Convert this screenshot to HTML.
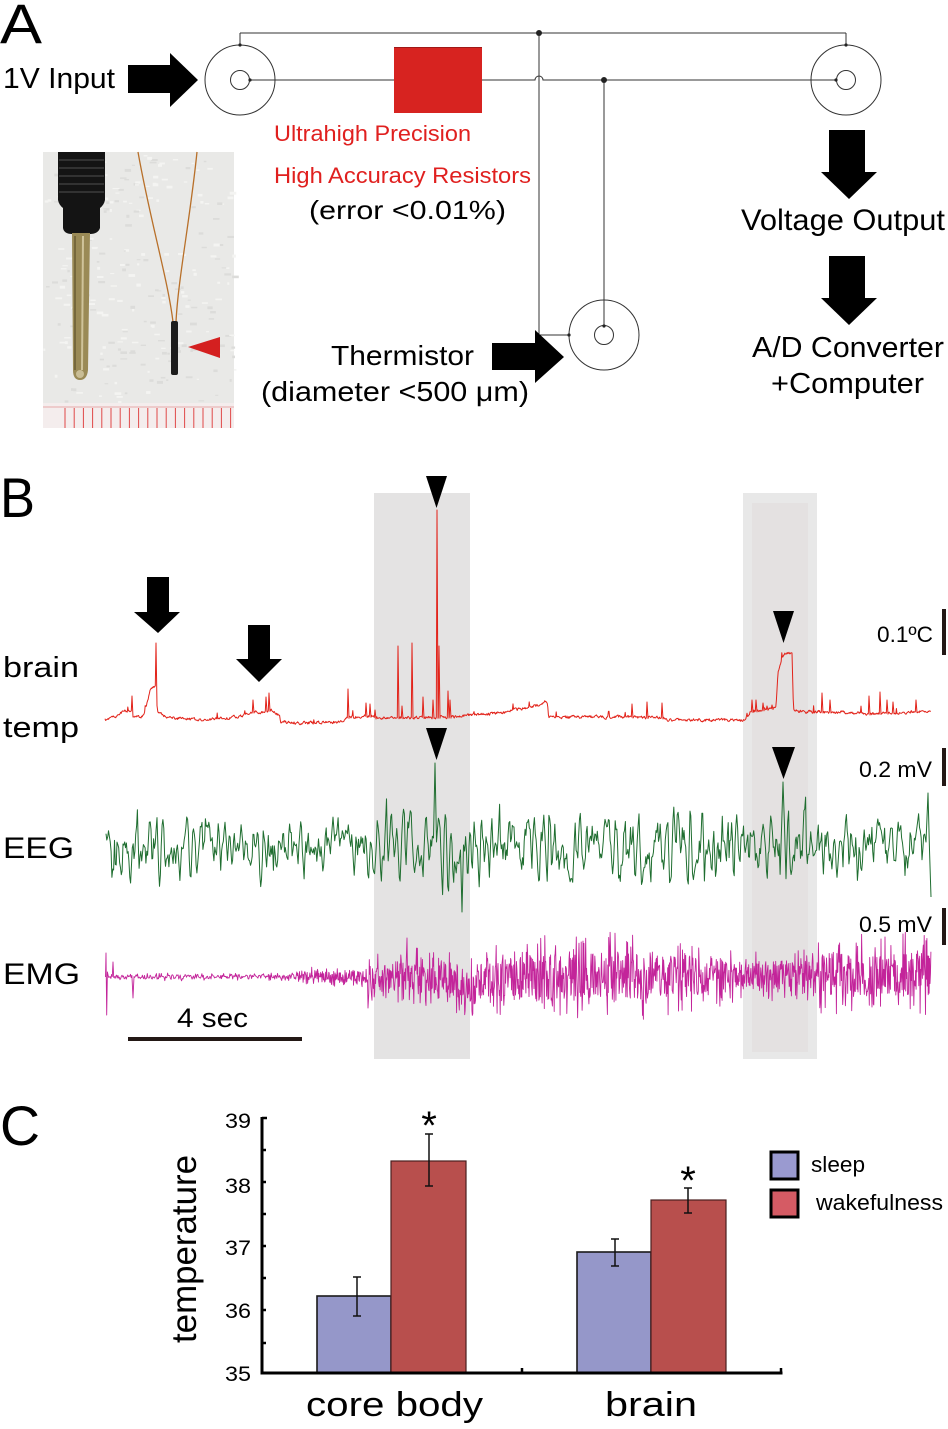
<!DOCTYPE html>
<html>
<head>
<meta charset="utf-8">
<style>
html,body{margin:0;padding:0;background:#fff;}
body{width:948px;height:1429px;overflow:hidden;}
svg{display:block;}
text{font-family:"Liberation Sans",Arial,sans-serif;}
</style>
</head>
<body>
<svg id="fig" width="948" height="1429" viewBox="0 0 948 1429" xmlns="http://www.w3.org/2000/svg">
<rect x="0" y="0" width="948" height="1429" fill="#fff"/>

<!-- ============ PANEL A ============ -->
<text x="0" y="43" font-size="56" textLength="42" lengthAdjust="spacingAndGlyphs">A</text>

<g stroke="#333" stroke-width="1" fill="none">
  <line x1="240" y1="33" x2="846" y2="33"/>
  <line x1="240" y1="33" x2="240" y2="45"/>
  <line x1="846" y1="33" x2="846" y2="45"/>
  <path d="M250,80 H535 A4,4 0 0 1 543,80 H836"/>
  <line x1="539" y1="33" x2="539" y2="335"/>
  <line x1="539" y1="335" x2="569" y2="335"/>
  <line x1="604" y1="80" x2="604" y2="325"/>
  <circle cx="240" cy="80" r="35"/>
  <circle cx="240" cy="80" r="9.5"/>
  <circle cx="846" cy="80" r="35"/>
  <circle cx="846" cy="80" r="9.5"/>
  <circle cx="604" cy="335" r="35"/>
  <circle cx="604" cy="335" r="9.5"/>
</g>
<g fill="#222">
  <circle cx="539" cy="33" r="3"/>
  <circle cx="604" cy="80" r="3"/>
  <circle cx="240" cy="45" r="1.6"/>
  <circle cx="846" cy="45" r="1.6"/>
  <circle cx="250" cy="80" r="1.6"/>
  <circle cx="836" cy="80" r="1.6"/>
  <circle cx="604" cy="326" r="1.6"/>
  <circle cx="569" cy="335" r="1.6"/>
</g>
<rect x="394" y="47" width="88" height="66" fill="#d72320"/>
<line x1="394" y1="47.5" x2="482" y2="47.5" stroke="#a01818" stroke-width="1"/>

<g fill="#000">
  <polygon points="128,65 170,65 170,53 198,80 170,107 170,93 128,93"/>
  <polygon points="492,343 535,343 535,330 564,357 535,383 535,370 492,370"/>
  <polygon points="829,130 865,130 865,172 877,172 849,199 821,172 829,172"/>
  <polygon points="829,256 865,256 865,298 877,298 849,325 821,298 829,298"/>
</g>

<text x="3" y="88" font-size="29" textLength="112" lengthAdjust="spacingAndGlyphs">1V Input</text>
<text x="274" y="141" font-size="22" fill="#e0201f" textLength="197" lengthAdjust="spacingAndGlyphs">Ultrahigh Precision</text>
<text x="274" y="183" font-size="22" fill="#e0201f" textLength="257" lengthAdjust="spacingAndGlyphs">High Accuracy Resistors</text>
<text x="309" y="219" font-size="26" textLength="197" lengthAdjust="spacingAndGlyphs">(error &lt;0.01%)</text>
<text x="331" y="365" font-size="28" textLength="143" lengthAdjust="spacingAndGlyphs">Thermistor</text>
<text x="261" y="401" font-size="28" textLength="268" lengthAdjust="spacingAndGlyphs">(diameter &lt;500 μm)</text>
<text x="741" y="230" font-size="30" textLength="204" lengthAdjust="spacingAndGlyphs">Voltage Output</text>
<text x="752" y="357" font-size="29" textLength="192" lengthAdjust="spacingAndGlyphs">A/D Converter</text>
<text x="771" y="393" font-size="29" textLength="153" lengthAdjust="spacingAndGlyphs">+Computer</text>

<!-- photo -->
<g>
  <rect x="43" y="152" width="191" height="276" fill="#e9e9e7"/>
  <g id="tex"></g>
  <rect x="43" y="403" width="191" height="25" fill="#f4eded"/>
  <line x1="43" y1="407" x2="234" y2="407" stroke="#e6a9a9" stroke-width="1"/>
  <g stroke="#e04848" stroke-width="1">
    <line x1="65" y1="408" x2="65" y2="428"/><line x1="74.2" y1="408" x2="74.2" y2="428"/>
    <line x1="83.4" y1="408" x2="83.4" y2="428"/><line x1="92.6" y1="408" x2="92.6" y2="428"/>
    <line x1="101.8" y1="408" x2="101.8" y2="428"/><line x1="111" y1="408" x2="111" y2="428"/>
    <line x1="120.2" y1="408" x2="120.2" y2="428"/><line x1="129.4" y1="408" x2="129.4" y2="428"/>
    <line x1="138.6" y1="408" x2="138.6" y2="428"/><line x1="147.8" y1="408" x2="147.8" y2="428"/>
    <line x1="157" y1="408" x2="157" y2="428"/><line x1="166.2" y1="408" x2="166.2" y2="428"/>
    <line x1="175.4" y1="408" x2="175.4" y2="428"/><line x1="184.6" y1="408" x2="184.6" y2="428"/>
    <line x1="193.8" y1="408" x2="193.8" y2="428"/><line x1="203" y1="408" x2="203" y2="428"/>
    <line x1="212.2" y1="408" x2="212.2" y2="428"/><line x1="221.4" y1="408" x2="221.4" y2="428"/>
    <line x1="230.6" y1="408" x2="230.6" y2="428"/>
  </g>
  <path d="M58,152 H105 V200 Q104,205 100,208 V228 Q98,234 90,234 H72 Q64,234 63,228 V208 Q59,205 58,200 Z" fill="#141414"/>
  <g stroke="#3c3c3c" stroke-width="1.5">
    <line x1="59" y1="160" x2="104" y2="160"/><line x1="59" y1="168" x2="104" y2="168"/>
    <line x1="59" y1="176" x2="104" y2="176"/><line x1="59" y1="184" x2="104" y2="184"/>
    <line x1="59" y1="192" x2="104" y2="192"/>
  </g>
  <path d="M72,233 H90 L88,370 Q87,380 80,380 Q73,380 73,370 Z" fill="#9a8a56"/>
  <line x1="75" y1="236" x2="75" y2="370" stroke="#6a5d34" stroke-width="1.5"/>
  <line x1="83" y1="236" x2="82" y2="370" stroke="#cfc39a" stroke-width="2"/>
  <circle cx="80" cy="374" r="4" fill="#c9bd95"/>
  <path d="M138,152 C150,220 168,280 173,322" stroke="#b8702a" stroke-width="1.3" fill="none"/>
  <path d="M197,152 C190,220 178,280 176,322" stroke="#b8702a" stroke-width="1.3" fill="none"/>
  <rect x="171" y="321" width="7" height="54" rx="2" fill="#1c1c1c"/>
  <polygon points="188,347 220,337 220,358" fill="#d42020"/>
</g>

<!-- ============ PANEL B ============ -->
<text x="0" y="517" font-size="56" textLength="35" lengthAdjust="spacingAndGlyphs">B</text>

<rect x="374" y="493" width="96" height="566" fill="#e4e3e3"/>
<rect x="743" y="493" width="74" height="566" fill="#e8e8e8"/>
<rect x="752" y="503" width="56" height="549" fill="#e4e1e1"/>

<path id="red" d="" fill="none" stroke="#e2231a" stroke-width="1" stroke-linejoin="round"/>
<path id="eeg" d="" fill="none" stroke="#1f6e30" stroke-width="1" stroke-linejoin="round"/>
<path id="emg" d="" fill="none" stroke="#c3249a" stroke-width="0.9" stroke-linejoin="round"/>

<g fill="#000">
  <polygon points="147,577 169,577 169,612 180,612 158,633 134,612 147,612"/>
  <polygon points="248,625 270,625 270,659 282,659 259,682 236,659 248,659"/>
  <polygon points="426,476 447,476 436.5,508"/>
  <polygon points="773,611 794,611 783.5,643"/>
  <polygon points="426,728 447,728 436.5,760"/>
  <polygon points="772,747 795,747 783.5,779"/>
</g>

<g fill="#231815">
  <rect x="942" y="609" width="4" height="46"/>
  <rect x="942" y="748" width="4" height="38"/>
  <rect x="942" y="908" width="4" height="37"/>
  <rect x="128" y="1037" width="174" height="4"/>
</g>
<text x="877" y="642" font-size="22" textLength="56" lengthAdjust="spacingAndGlyphs">0.1ºC</text>
<text x="859" y="777" font-size="22" textLength="73" lengthAdjust="spacingAndGlyphs">0.2 mV</text>
<text x="859" y="932" font-size="22" textLength="73" lengthAdjust="spacingAndGlyphs">0.5 mV</text>
<text x="177" y="1027" font-size="27" textLength="71" lengthAdjust="spacingAndGlyphs">4 sec</text>

<text x="3" y="677" font-size="29" textLength="76" lengthAdjust="spacingAndGlyphs">brain</text>
<text x="3" y="737" font-size="29" textLength="76" lengthAdjust="spacingAndGlyphs">temp</text>
<text x="3" y="858" font-size="30" textLength="71" lengthAdjust="spacingAndGlyphs">EEG</text>
<text x="3" y="984" font-size="30" textLength="77" lengthAdjust="spacingAndGlyphs">EMG</text>

<!-- ============ PANEL C ============ -->
<text x="0" y="1145" font-size="56" textLength="40" lengthAdjust="spacingAndGlyphs">C</text>

<rect x="317" y="1296" width="74" height="77" fill="#9597c9" stroke="#1a1a1a" stroke-width="1.6"/>
<rect x="391" y="1161" width="75" height="212" fill="#b84f4d" stroke="#4a1f1f" stroke-width="1.2"/>
<rect x="577" y="1252" width="74" height="121" fill="#9597c9" stroke="#1a1a1a" stroke-width="1.6"/>
<rect x="651" y="1200" width="75" height="173" fill="#b84f4d" stroke="#4a1f1f" stroke-width="1.2"/>

<g stroke="#111" stroke-width="1.5" fill="none">
  <path d="M357,1277 V1316 M353,1277 H361 M353,1316 H361"/>
  <path d="M429,1134 V1186 M425,1134 H433 M425,1186 H433"/>
  <path d="M615,1239 V1266 M611,1239 H619 M611,1266 H619"/>
  <path d="M688,1188 V1213 M684,1188 H692 M684,1213 H692"/>
</g>
<text x="429" y="1139" font-size="40" text-anchor="middle">*</text>
<text x="688" y="1194" font-size="40" text-anchor="middle">*</text>

<g stroke="#000" fill="none">
  <line x1="262" y1="1117" x2="262" y2="1374.5" stroke-width="3"/>
  <line x1="261" y1="1373" x2="782.5" y2="1373" stroke-width="3"/>
  <g stroke-width="2.5">
    <line x1="262" y1="1118" x2="267" y2="1118"/>
    <line x1="262" y1="1150" x2="266" y2="1150"/>
    <line x1="262" y1="1182" x2="266" y2="1182"/>
    <line x1="262" y1="1214" x2="266" y2="1214"/>
    <line x1="262" y1="1246" x2="266" y2="1246"/>
    <line x1="262" y1="1278" x2="266" y2="1278"/>
    <line x1="262" y1="1310" x2="266" y2="1310"/>
    <line x1="262" y1="1343" x2="266" y2="1343"/>
    <line x1="522" y1="1368" x2="522" y2="1373"/>
    <line x1="781" y1="1368" x2="781" y2="1373"/>
  </g>
</g>
<g font-size="21" text-anchor="end">
  <text x="251" y="1128" textLength="26" lengthAdjust="spacingAndGlyphs">39</text>
  <text x="251" y="1193" textLength="26" lengthAdjust="spacingAndGlyphs">38</text>
  <text x="251" y="1255" textLength="26" lengthAdjust="spacingAndGlyphs">37</text>
  <text x="251" y="1318" textLength="26" lengthAdjust="spacingAndGlyphs">36</text>
  <text x="251" y="1381" textLength="26" lengthAdjust="spacingAndGlyphs">35</text>
</g>
<g transform="translate(196,1249) rotate(-90)">
  <text x="0" y="0" font-size="35" text-anchor="middle" textLength="188" lengthAdjust="spacingAndGlyphs">temperature</text>
</g>
<text x="306" y="1416" font-size="34" textLength="177" lengthAdjust="spacingAndGlyphs">core body</text>
<text x="605" y="1416" font-size="34" textLength="92" lengthAdjust="spacingAndGlyphs">brain</text>

<rect x="771" y="1152" width="27" height="27" fill="#9a9ad0" stroke="#000" stroke-width="3"/>
<rect x="771" y="1190" width="27" height="27" fill="#d55b64" stroke="#000" stroke-width="3"/>
<text x="811" y="1172" font-size="22" textLength="54" lengthAdjust="spacingAndGlyphs">sleep</text>
<text x="816" y="1210" font-size="22" textLength="127" lengthAdjust="spacingAndGlyphs">wakefulness</text>
</svg>

<script>
(function(){
function rng(a){return function(){a|=0;a=a+0x6D2B79F5|0;var t=Math.imul(a^a>>>15,1|a);t=t+Math.imul(t^t>>>7,61|t)^t;return((t^t>>>14)>>>0)/4294967296;};}
function ip(kp,x){if(x<=kp[0][0])return kp[0][1];for(var i=0;i<kp.length-1;i++){if(x<=kp[i+1][0]){var t=(x-kp[i][0])/(kp[i+1][0]-kp[i][0]);return kp[i][1]+t*(kp[i+1][1]-kp[i][1]);}}return kp[kp.length-1][1];}
function toD(p){p.sort(function(a,b){return a[0]-b[0];});var s='M'+p[0][0].toFixed(1)+','+p[0][1].toFixed(1);for(var i=1;i<p.length;i++)s+='L'+p[i][0].toFixed(1)+','+p[i][1].toFixed(1);return s;}
function inRanges(x,r){for(var i=0;i<r.length;i++){if(x>r[i][0]&&x<r[i][1])return true;}return false;}

/* photo texture */
var T=rng(21),tex='';
for(var i=0;i<260;i++){
  var tx=43+T()*191, ty=152+T()*250, c=T()<0.5?'#dcdcda':'#f4f4f2';
  tex+='<rect x="'+tx.toFixed(1)+'" y="'+ty.toFixed(1)+'" width="'+(2+T()*5).toFixed(1)+'" height="'+(1+T()*2).toFixed(1)+'" fill="'+c+'"/>';
}
document.getElementById('tex').innerHTML=tex;

/* brain temp */
var R=rng(7);
var base=[[105,720],[118,716],[123,711],[131,710],[133,716],[140,717],[144,715],[148,700],[150,690],[154,686],[155.6,686],[157.4,710],[163,715],[175,718],[200,720],[240,717],[250,712],[260,712],[272,710],[277,714],[279.5,716],[280.5,722],[300,723],[344,722],[346,718],[350,717],[370,716],[376,718],[460,717],[467,715],[500,713],[540,705],[546,701],[547.5,702],[548.5,717],[632,717],[663,718],[664.5,720],[700,720],[744,720],[750,712],[776,708],[778,672],[783,657],[786,653],[792,653],[793.5,710],[800,712],[830,712],[870,714],[931,711]];
var spikes=[[132,696],[156,643],[253,700],[266,697],[269,693],[348,689],[366,703],[370,704],[375,710],[398,646],[402,706],[412,643],[423,697],[433,700],[437,510],[439,646],[448,691],[450,700],[632,704],[647,702],[662,703],[752,700],[756,700],[763,703],[767,706],[772,705],[822,693],[830,700],[869,696],[880,692],[887,700],[893,702],[916,700]];
var sr=spikes.map(function(s){return [s[0]-0.9,s[0]+1.2];});
var pts=[],w=0;
for(var x=105;x<=931;x+=0.6){
  w=0.5*w+(R()-0.5)*2.6;
  var y=ip(base,x)+w;
  if(R()<0.012) y-=3+R()*4;
  if(!inRanges(x,sr)) pts.push([x,y]);
}
spikes.forEach(function(s){
  pts.push([s[0]-0.7,ip(base,s[0]-0.7)]);
  pts.push([s[0],s[1]]);
  pts.push([s[0]+1.0,ip(base,s[0]+1.0)+1]);
});
document.getElementById('red').setAttribute('d',toD(pts));

/* EEG */
var G=rng(3);
var ep=[],a=0,b=0,s=0;
var er=[[432.5,437.5],[459.5,464.5],[780.5,785.5],[925,932]];
for(var x2=106;x2<=931;x2+=0.85){
  s=0.9*s+(G()-0.5)*6;
  var e=(G()-0.5)*2;
  var n=0.95*a-0.5*b+e*16;b=a;a=n;
  if(G()<0.03) n+= (G()-0.5)*50;
  var amp=x2<370?1.05:1.3;
  var yy=847+amp*(n*0.95+s);
  if(yy<797)yy=797+(G()*5);if(yy>902)yy=902-(G()*5);
  if(!inRanges(x2,er)) ep.push([x2,yy]);
}
ep.push([433.5,838],[435,763],[436.5,842]);
ep.push([460.5,850],[462,912],[463.5,845]);
ep.push([781.5,830],[783,782],[784.5,826]);
ep.push([926,842],[928,793],[929.5,850],[931,897]);
document.getElementById('eeg').setAttribute('d',toD(ep));

/* EMG */
var M=rng(11);
var env=[[106,3.5],[296,3.5],[298,9],[366,9],[372,25],[470,27],[530,38],[640,40],[700,34],[740,23],[815,23],[822,36],[931,38]];
var cen=[[106,977],[450,977],[456,988],[470,990],[482,979],[600,976],[931,974]];
var mp=[];
var mr=[[105,108],[112.5,113.5],[132.5,133.5],[367.5,368.5],[406.5,407.5]];
for(var x3=106;x3<=931;x3+=(x3<296?0.7:0.45)){
  var nn=(M()-0.5)*2;
  var k=M()<0.3?1.12:0.62;
  var y3=ip(cen,x3)+ip(env,x3)*nn*k;
  if(!inRanges(x3,mr)) mp.push([x3,y3]);
}
mp.push([105.5,977],[106,953],[106.7,1015],[107.4,972],[113,962],[133,998],[368,1008],[407,938]);
document.getElementById('emg').setAttribute('d',toD(mp));
})();
</script>
</body>
</html>
